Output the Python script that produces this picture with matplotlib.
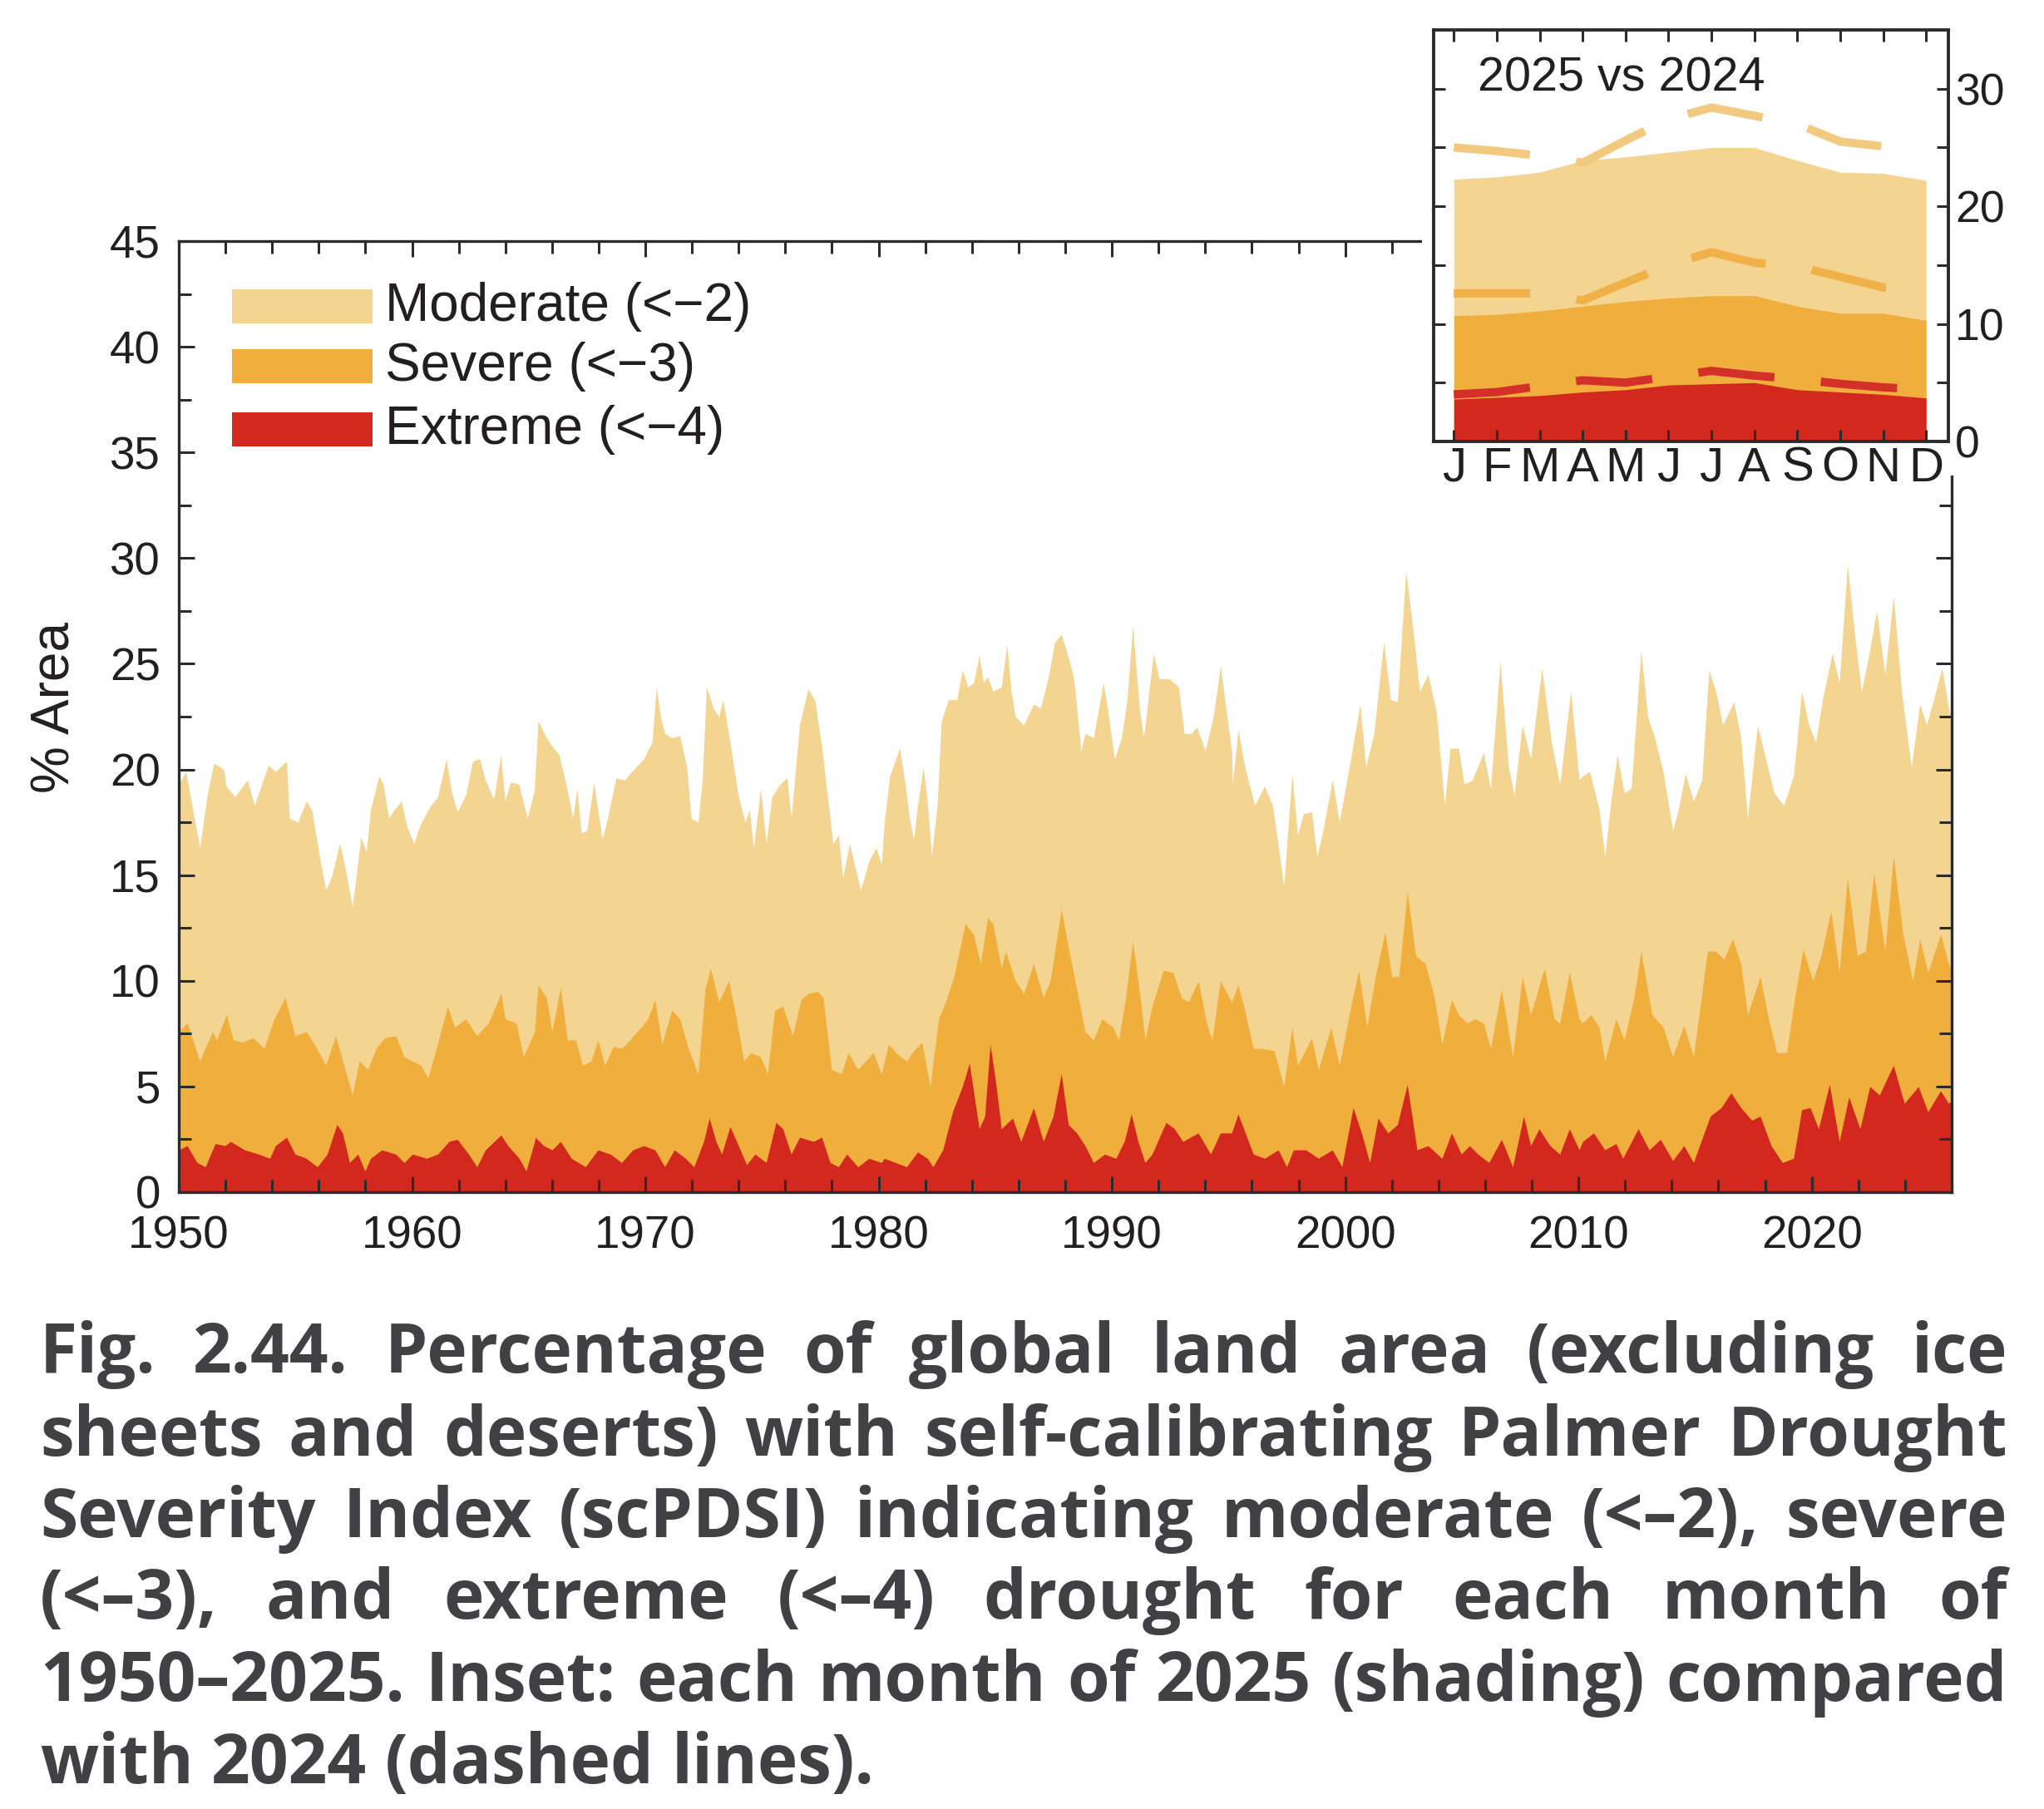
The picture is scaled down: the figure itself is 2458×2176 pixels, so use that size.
import numpy as np
import matplotlib
matplotlib.use('Agg')
import matplotlib.pyplot as plt
from matplotlib import font_manager
from matplotlib.patches import Rectangle
from matplotlib.ticker import MultipleLocator

# ---- data (year, % area) ----
mod_years = [
    1950.00, 1950.30, 1950.90, 1951.20, 1951.50, 1951.92, 1952.04, 1952.40, 1952.94, 1953.24,
    1953.84, 1954.14, 1954.62, 1954.74, 1955.10, 1955.46, 1955.70, 1956.06, 1956.30, 1956.54,
    1956.90, 1957.14, 1957.44, 1957.62, 1957.80, 1958.04, 1958.22, 1958.58, 1958.76, 1959.00,
    1959.24, 1959.54, 1959.78, 1960.08, 1960.32, 1960.50, 1960.80, 1961.10, 1961.46, 1961.70,
    1961.94, 1962.30, 1962.60, 1962.90, 1963.14, 1963.50, 1963.80, 1963.98, 1964.22, 1964.58,
    1964.94, 1965.24, 1965.40, 1965.76, 1966.00, 1966.30, 1966.60, 1966.89, 1967.07, 1967.25,
    1967.49, 1967.79, 1968.15, 1968.38, 1968.74, 1969.10, 1969.58, 1969.93, 1970.29, 1970.47,
    1970.65, 1970.83, 1971.13, 1971.48, 1971.78, 1971.96, 1972.26, 1972.44, 1972.62, 1972.91,
    1973.15, 1973.33, 1973.63, 1973.99, 1974.28, 1974.46, 1974.64, 1974.94, 1975.18, 1975.42,
    1975.77, 1976.07, 1976.25, 1976.61, 1976.97, 1977.26, 1977.56, 1978.04, 1978.28, 1978.46,
    1978.75, 1979.23, 1979.59, 1979.89, 1980.12, 1980.24, 1980.48, 1980.90, 1981.14, 1981.32,
    1981.50, 1981.67, 1981.91, 1982.09, 1982.27, 1982.51, 1982.69, 1982.99, 1983.35, 1983.59,
    1983.83, 1984.07, 1984.31, 1984.49, 1984.67, 1984.90, 1985.26, 1985.50, 1985.68, 1985.86,
    1986.22, 1986.64, 1986.94, 1987.30, 1987.54, 1987.83, 1988.13, 1988.37, 1988.67, 1988.85,
    1989.21, 1989.63, 1989.81, 1990.11, 1990.41, 1990.65, 1990.89, 1991.18, 1991.36, 1991.78,
    1992.02, 1992.44, 1992.86, 1993.10, 1993.40, 1993.64, 1994.00, 1994.35, 1994.65, 1994.89,
    1995.13, 1995.17, 1995.41, 1995.70, 1996.12, 1996.54, 1996.89, 1997.37, 1997.72, 1997.96,
    1998.20, 1998.56, 1998.79, 1999.03, 1999.45, 1999.75, 2000.22, 2000.64, 2000.88, 2001.23,
    2001.65, 2001.95, 2002.24, 2002.60, 2002.96, 2003.19, 2003.55, 2003.91, 2004.26, 2004.50,
    2004.86, 2005.10, 2005.45, 2005.93, 2006.23, 2006.64, 2007.00, 2007.24, 2007.59, 2007.95,
    2008.43, 2008.84, 2009.20, 2009.67, 2010.03, 2010.18, 2010.48, 2010.89, 2011.13, 2011.37,
    2011.66, 2011.96, 2012.26, 2012.68, 2012.97, 2013.27, 2013.63, 2014.04, 2014.28, 2014.58,
    2014.93, 2015.29, 2015.59, 2015.89, 2016.18, 2016.66, 2016.96, 2017.25, 2017.67, 2018.03,
    2018.38, 2018.80, 2019.22, 2019.57, 2019.87, 2020.17, 2020.46, 2020.88, 2021.18, 2021.53,
    2021.83, 2022.13, 2022.43, 2022.78, 2023.14, 2023.50, 2023.85, 2024.27, 2024.63, 2024.92,
    2025.22, 2025.58, 2025.87, 2025.96]
mod_vals = [
    19.3, 19.9, 16.3, 18.7, 20.3, 20.0, 19.2, 18.7, 19.5, 18.3,
    20.2, 19.9, 20.4, 17.7, 17.5, 18.5, 18.1, 15.7, 14.3, 14.9,
    16.5, 15.3, 13.5, 15.1, 16.8, 16.1, 18.1, 19.7, 19.3, 17.7,
    18.1, 18.5, 17.3, 16.5, 17.3, 17.7, 18.3, 18.7, 20.5, 18.9,
    18.0, 18.8, 20.4, 20.5, 19.5, 18.6, 20.7, 18.5, 19.4, 19.3,
    17.7, 19.0, 22.3, 21.5, 21.1, 20.7, 19.3, 17.7, 19.1, 17.0,
    17.1, 19.4, 16.7, 17.7, 19.6, 19.5, 20.1, 20.5, 21.3, 23.9,
    22.5, 21.7, 21.5, 21.6, 20.1, 17.7, 17.5, 19.5, 23.9, 22.9,
    22.5, 23.3, 21.3, 18.7, 17.5, 18.1, 16.3, 19.1, 16.5, 18.7,
    19.3, 19.6, 17.7, 22.1, 23.8, 23.3, 21.1, 16.5, 16.9, 14.9,
    16.5, 14.3, 15.7, 16.3, 15.5, 17.5, 19.7, 21.0, 19.3, 17.7,
    16.7, 18.3, 20.1, 18.5, 15.9, 18.3, 22.3, 23.3, 23.3, 24.7,
    23.9, 24.1, 25.4, 24.1, 24.4, 23.7, 23.9, 25.9, 23.7, 22.5,
    22.1, 23.1, 22.9, 24.5, 26.0, 26.4, 25.3, 24.3, 20.9, 21.7,
    21.5, 24.1, 22.9, 20.5, 21.5, 23.3, 26.8, 22.9, 21.5, 25.5,
    24.3, 24.3, 23.9, 21.7, 21.7, 22.0, 20.9, 22.5, 24.9, 22.9,
    20.9, 19.3, 21.9, 20.1, 18.3, 19.2, 18.3, 14.5, 19.8, 16.9,
    17.9, 18.0, 15.9, 17.0, 19.5, 17.5, 20.4, 23.1, 20.1, 21.7,
    26.0, 23.3, 23.2, 29.4, 26.1, 23.7, 24.5, 22.7, 18.3, 21.0,
    21.0, 19.3, 19.5, 20.8, 19.1, 25.1, 20.1, 18.8, 22.1, 20.5,
    24.8, 21.3, 19.3, 23.7, 19.5, 19.7, 19.9, 18.1, 15.9, 18.3,
    20.7, 18.9, 19.1, 25.6, 22.5, 21.5, 19.9, 17.1, 18.1, 19.8,
    18.5, 19.5, 24.7, 23.7, 22.1, 23.2, 21.5, 17.7, 22.1, 20.5,
    18.9, 18.3, 19.7, 23.7, 22.1, 21.3, 23.3, 25.5, 24.1, 29.7,
    26.5, 23.7, 25.3, 27.5, 24.5, 28.2, 23.7, 20.1, 23.1, 22.1,
    23.3, 24.8, 22.9, 22.5]

sev_years = [
    1950.00, 1950.36, 1950.90, 1951.44, 1951.62, 1952.04, 1952.34, 1952.70, 1953.18, 1953.66,
    1954.08, 1954.56, 1954.98, 1955.46, 1955.82, 1956.30, 1956.72, 1957.08, 1957.44, 1957.74,
    1958.10, 1958.46, 1958.82, 1959.30, 1959.66, 1960.02, 1960.38, 1960.68, 1961.04, 1961.52,
    1961.82, 1962.30, 1962.78, 1963.27, 1963.81, 1963.99, 1964.47, 1964.77, 1965.25, 1965.40,
    1965.76, 1966.00, 1966.36, 1966.66, 1967.01, 1967.31, 1967.67, 1967.97, 1968.26, 1968.62,
    1968.98, 1969.34, 1969.81, 1970.11, 1970.41, 1970.71, 1971.13, 1971.48, 1971.84, 1972.26,
    1972.56, 1972.79, 1973.15, 1973.57, 1973.87, 1974.22, 1974.52, 1974.94, 1975.24, 1975.54,
    1975.89, 1976.31, 1976.67, 1976.97, 1977.38, 1977.62, 1977.98, 1978.40, 1978.69, 1979.11,
    1979.77, 1980.12, 1980.42, 1980.84, 1981.20, 1981.44, 1981.85, 1982.21, 1982.57, 1982.87,
    1983.23, 1983.71, 1984.07, 1984.37, 1984.67, 1984.90, 1985.26, 1985.44, 1985.86, 1986.22,
    1986.64, 1987.06, 1987.36, 1987.83, 1988.13, 1988.49, 1988.85, 1989.21, 1989.57, 1990.05,
    1990.29, 1990.59, 1990.89, 1991.24, 1991.42, 1991.72, 1992.20, 1992.62, 1992.98, 1993.28,
    1993.70, 1994.06, 1994.29, 1994.65, 1995.13, 1995.41, 1995.70, 1996.06, 1996.42, 1996.95,
    1997.37, 1997.72, 1997.96, 1998.56, 1998.85, 1999.39, 1999.75, 2000.28, 2000.58, 2000.93,
    2001.29, 2001.71, 2002.00, 2002.30, 2002.66, 2003.02, 2003.43, 2003.79, 2004.15, 2004.56,
    2004.86, 2005.22, 2005.57, 2005.93, 2006.23, 2006.70, 2007.18, 2007.59, 2007.95, 2008.54,
    2008.96, 2009.20, 2009.61, 2010.03, 2010.18, 2010.54, 2010.89, 2011.13, 2011.61, 2011.96,
    2012.38, 2012.68, 2013.15, 2013.63, 2014.04, 2014.52, 2014.93, 2015.53, 2015.89, 2016.24,
    2016.60, 2016.96, 2017.25, 2017.79, 2018.15, 2018.50, 2018.92, 2019.33, 2019.63, 2020.05,
    2020.40, 2020.82, 2021.18, 2021.53, 2021.95, 2022.31, 2022.66, 2023.14, 2023.50, 2023.91,
    2024.33, 2024.63, 2024.98, 2025.52, 2025.87, 2025.96]
sev_vals = [
    7.6, 8.0, 6.2, 7.6, 7.2, 8.4, 7.2, 7.1, 7.3, 6.8,
    8.2, 9.2, 7.4, 7.6, 7.0, 6.0, 7.4, 6.0, 4.6, 6.2,
    5.8, 6.8, 7.3, 7.4, 6.4, 6.2, 6.0, 5.4, 6.8, 8.8,
    7.8, 8.2, 7.4, 8.0, 9.4, 8.2, 8.0, 6.4, 7.6, 9.8,
    9.2, 7.6, 9.7, 7.2, 7.2, 6.0, 6.2, 7.2, 6.0, 6.9,
    6.8, 7.2, 7.8, 8.2, 9.1, 7.0, 8.6, 8.2, 6.8, 5.6,
    9.6, 10.6, 9.0, 10.0, 8.4, 6.2, 6.6, 6.4, 5.6, 8.6,
    8.8, 7.4, 9.1, 9.4, 9.5, 9.2, 5.8, 5.6, 6.6, 5.8,
    6.6, 5.6, 7.0, 6.5, 6.2, 6.6, 7.1, 5.0, 8.2, 9.0,
    10.2, 12.7, 12.2, 10.8, 13.0, 12.7, 10.6, 11.4, 10.0, 9.4,
    10.8, 9.2, 10.0, 13.4, 11.6, 9.6, 7.6, 7.2, 8.2, 7.8,
    7.2, 9.2, 11.9, 9.0, 7.2, 8.8, 10.5, 10.4, 9.2, 9.0,
    10.0, 8.0, 7.2, 10.0, 9.0, 9.8, 8.6, 6.8, 6.8, 6.7,
    5.0, 7.8, 6.0, 7.3, 5.8, 7.8, 6.0, 9.0, 10.5, 7.8,
    10.2, 12.3, 10.2, 10.2, 14.2, 11.2, 10.8, 9.4, 7.0, 9.1,
    8.4, 8.0, 8.2, 8.0, 6.8, 9.6, 6.4, 10.2, 8.4, 10.6,
    8.2, 8.0, 10.4, 8.2, 8.0, 8.4, 7.8, 6.2, 8.2, 7.2,
    9.2, 11.4, 8.4, 7.8, 6.4, 7.9, 6.4, 11.4, 11.4, 11.0,
    12.0, 10.8, 8.4, 10.2, 8.2, 6.6, 6.6, 9.6, 11.5, 10.0,
    11.2, 13.3, 10.4, 14.9, 11.2, 11.4, 15.1, 11.4, 15.9, 12.2,
    10.0, 12.0, 10.4, 12.2, 10.8, 10.6]

ext_years = [
    1950.00, 1950.36, 1950.78, 1951.14, 1951.56, 1951.98, 1952.22, 1952.82, 1953.42, 1953.90,
    1954.14, 1954.62, 1954.98, 1955.46, 1955.94, 1956.36, 1956.78, 1957.02, 1957.32, 1957.68,
    1957.98, 1958.22, 1958.70, 1959.30, 1959.66, 1960.02, 1960.62, 1961.10, 1961.58, 1961.94,
    1962.42, 1962.78, 1963.14, 1963.81, 1964.11, 1964.59, 1964.89, 1965.25, 1965.28, 1965.64,
    1966.00, 1966.36, 1966.83, 1967.43, 1967.97, 1968.50, 1968.98, 1969.46, 1969.93, 1970.41,
    1970.83, 1971.24, 1971.72, 1972.08, 1972.50, 1972.74, 1973.03, 1973.27, 1973.63, 1973.99,
    1974.34, 1974.70, 1975.18, 1975.60, 1975.89, 1976.25, 1976.61, 1977.20, 1977.56, 1977.92,
    1978.28, 1978.63, 1979.11, 1979.59, 1980.12, 1980.24, 1980.72, 1981.20, 1981.67, 1982.09,
    1982.33, 1982.75, 1983.17, 1983.59, 1983.89, 1984.31, 1984.55, 1984.78, 1985.02, 1985.26,
    1985.74, 1986.10, 1986.64, 1987.06, 1987.48, 1987.83, 1988.13, 1988.49, 1988.85, 1989.21,
    1989.69, 1990.17, 1990.53, 1990.83, 1991.12, 1991.42, 1991.72, 1992.32, 1992.68, 1993.04,
    1993.70, 1994.23, 1994.65, 1995.13, 1995.41, 1996.06, 1996.54, 1997.13, 1997.49, 1997.78,
    1998.32, 1998.85, 1999.45, 1999.86, 2000.34, 2000.70, 2001.05, 2001.41, 2001.83, 2002.24,
    2002.66, 2003.08, 2003.55, 2004.15, 2004.56, 2004.98, 2005.33, 2005.69, 2006.16, 2006.70,
    2007.18, 2007.65, 2007.95, 2008.31, 2008.78, 2009.20, 2009.61, 2010.03, 2010.18, 2010.65,
    2011.13, 2011.61, 2011.90, 2012.56, 2013.03, 2013.51, 2014.04, 2014.52, 2014.93, 2015.65,
    2016.12, 2016.54, 2016.96, 2017.43, 2017.79, 2018.26, 2018.74, 2019.22, 2019.57, 2019.93,
    2020.29, 2020.76, 2021.18, 2021.59, 2022.07, 2022.49, 2022.90, 2023.50, 2023.97, 2024.57,
    2024.98, 2025.52, 2025.87, 2025.96]
ext_vals = [
    2.0, 2.2, 1.4, 1.2, 2.3, 2.2, 2.4, 2.0, 1.8, 1.6,
    2.2, 2.6, 1.8, 1.6, 1.2, 1.8, 3.2, 2.8, 1.4, 1.8,
    1.0, 1.6, 2.0, 1.8, 1.4, 1.8, 1.6, 1.8, 2.4, 2.5,
    1.8, 1.2, 2.0, 2.7, 2.2, 1.6, 1.0, 2.4, 2.6, 2.2,
    2.0, 2.4, 1.6, 1.2, 2.0, 1.8, 1.4, 2.0, 2.2, 2.0,
    1.2, 2.0, 1.6, 1.2, 2.4, 3.5, 2.4, 1.8, 3.1, 2.2,
    1.3, 1.8, 1.4, 3.3, 3.0, 1.8, 2.6, 2.4, 2.6, 1.4,
    1.2, 1.8, 1.2, 1.6, 1.4, 1.6, 1.4, 1.2, 1.9, 1.6,
    1.2, 2.0, 3.8, 5.0, 6.1, 3.0, 3.6, 7.0, 5.2, 3.0,
    3.5, 2.4, 4.0, 2.4, 3.6, 5.6, 3.2, 2.8, 2.2, 1.4,
    1.8, 1.6, 2.4, 3.7, 2.4, 1.4, 1.8, 3.3, 3.0, 2.4,
    2.8, 1.8, 2.8, 2.8, 3.7, 1.8, 1.6, 2.0, 1.2, 2.0,
    2.0, 1.6, 2.0, 1.2, 4.0, 2.8, 1.4, 3.5, 2.8, 3.2,
    5.1, 2.0, 2.2, 1.6, 2.8, 1.8, 2.2, 1.8, 1.4, 2.5,
    1.2, 3.6, 2.2, 3.0, 2.2, 1.8, 3.0, 2.0, 2.4, 2.8,
    2.0, 2.3, 1.6, 3.0, 2.0, 2.5, 1.5, 2.2, 1.4, 3.6,
    4.0, 4.7, 4.0, 3.4, 3.6, 2.2, 1.4, 1.6, 3.9, 4.0,
    3.0, 5.1, 2.4, 4.5, 3.0, 5.0, 4.6, 6.0, 4.2, 5.0,
    3.8, 4.8, 4.2, 4.3]

# inset: each month of 2025 (shading) and 2024 (dashed)
months = ['J', 'F', 'M', 'A', 'M', 'J', 'J', 'A', 'S', 'O', 'N', 'D']
mod_2025 = [22.3, 22.5, 22.9, 23.9, 24.2, 24.6, 25.0, 25.0, 23.9, 22.9, 22.8, 22.2]
sev_2025 = [10.7, 10.8, 11.1, 11.5, 11.9, 12.2, 12.4, 12.4, 11.5, 10.9, 10.9, 10.3]
ext_2025 = [3.6, 3.75, 3.9, 4.2, 4.4, 4.8, 4.9, 5.0, 4.4, 4.2, 4.0, 3.7]
mod_2024 = [25.0, 24.7, 24.3, 23.7, 25.6, 27.4, 28.4, 27.7, 27.0, 25.5, 25.1, 24.9]
sev_2024 = [12.6, 12.6, 12.6, 12.0, 13.5, 15.0, 16.1, 15.2, 14.9, 14.0, 13.1, 12.8]
ext_2024 = [4.0, 4.2, 4.7, 5.2, 5.0, 5.5, 6.0, 5.6, 5.3, 4.9, 4.6, 4.4]

legend_labels = ['Moderate (<\u22122)', 'Severe (<\u22123)', 'Extreme (<\u22124)']
caption_lines = [
    'Fig. 2.44. Percentage of global land area (excluding ice',
    'sheets and deserts) with self-calibrating Palmer Drought',
    'Severity Index (scPDSI) indicating moderate (<\u20132), severe',
    '(<\u20133), and extreme (<\u20134) drought for each month of',
    '1950\u20132025. Inset: each month of 2025 (shading) compared',
    'with 2024 (dashed lines).',
]

C_MOD = '#F4D491'
C_SEV = '#F0AF3C'
C_EXT = '#D2281E'
C_MOD_LINE = '#F2C97E'
C_SEV_LINE = '#F0B248'
C_EXT_LINE = '#D4302A'
INK = '#231F20'
SPINE = '#2B2B2B'
CAP_INK = '#414143'


def pick(names):
    for n in names:
        try:
            font_manager.findfont(font_manager.FontProperties(family=n),
                                  fallback_to_default=False)
            return n
        except ValueError:
            pass
    return 'DejaVu Sans'


NARROW = pick(['Liberation Sans Narrow', 'Liberation Sans'])
SANS = pick(['Liberation Sans', 'DejaVu Sans'])
CAPF = pick(['Open Sans', 'Noto Sans', 'Lato', 'DejaVu Sans'])

W, H = 2458, 2176
DPI = 200
fig = plt.figure(figsize=(W / DPI, H / DPI), dpi=DPI)
fig.patch.set_facecolor('white')
renderer = fig.canvas.get_renderer()


def fx(px):
    return px / W


def fy(py):
    return 1 - py / H


def text_w(s, size, family, weight='normal'):
    t = fig.text(0, 0, s, fontsize=size, family=family, fontweight=weight)
    w = t.get_window_extent(renderer).width
    t.remove()
    return w


def fit(s, target_px, base, family=NARROW):
    # font size giving the label roughly the width it has in the picture
    return min(base, 1.1 * base * target_px / text_w(s, base, family))


TICK_SIZE = fit('1950', 111, 22)
MONTH_SIZE = fit('M', 44, 22)
INSET_Y_SIZE = fit('30', 54, 20)
INSET_TITLE_SIZE = fit('2025 vs 2024', 314, 23)

# ---- main panel ----
ax = fig.add_axes([fx(215), fy(1434), fx(2347) - fx(215), fy(290) - fy(1434)])
ax.fill_between(mod_years, mod_vals, 0, color=C_MOD, lw=0)
ax.fill_between(sev_years, sev_vals, 0, color=C_SEV, lw=0)
ax.fill_between(ext_years, ext_vals, 0, color=C_EXT, lw=0)
ax.set_xlim(1950, 2026)
ax.set_ylim(0, 45)
ax.set_xticks(range(1950, 2021, 10))
ax.xaxis.set_minor_locator(MultipleLocator(2))
ax.set_yticks(range(0, 46, 5))
ax.yaxis.set_minor_locator(MultipleLocator(2.5))
ax.tick_params(which='both', direction='in', top=True, right=True,
               color=SPINE, width=1.1)
ax.tick_params(which='major', length=7)
ax.tick_params(which='minor', length=5.5)
ax.tick_params(axis='x', which='major', pad=10)
ax.tick_params(axis='y', which='major', pad=8)
for lab in ax.get_xticklabels() + ax.get_yticklabels():
    lab.set_fontfamily(NARROW)
    lab.set_fontsize(TICK_SIZE)
    lab.set_color(INK)
for sp in ax.spines.values():
    sp.set_color(SPINE)
    sp.set_linewidth(1.2)
ax.set_ylabel('% Area', fontsize=23, family=SANS, color=INK)
ax.yaxis.set_label_coords(-0.0558, 0.51)

# legend as drawn boxes
leg_colors = [C_MOD, C_SEV, C_EXT]
row_tops = [348, 420, 496]
for lab, col, top in zip(legend_labels, leg_colors, row_tops):
    ax.add_patch(Rectangle((fx(279), fy(top + 41)), fx(169), 41 / H,
                           transform=fig.transFigure, color=col, lw=0))
    fig.text(fx(463), fy(top + 21), lab, fontsize=23, family=SANS,
             color=INK, ha='left', va='center')

# blank the corner behind the inset
fig.add_artist(Rectangle((fx(1710), fy(572)), 1 - fx(1710), 572 / H,
                         transform=fig.transFigure, facecolor='white',
                         edgecolor='none', zorder=1))

# ---- inset ----
iax = fig.add_axes([fx(1724), fy(531), fx(2343) - fx(1724), fy(36) - fy(531)])
iax.set_zorder(2)
iax.set_facecolor('white')
mx = np.arange(len(months))
iax.fill_between(mx, mod_2025, 0, color=C_MOD, lw=0)
iax.fill_between(mx, sev_2025, 0, color=C_SEV, lw=0)
iax.fill_between(mx, ext_2025, 0, color=C_EXT, lw=0)
dash = (9.2, 5.6)
iax.plot(mx, mod_2024, color=C_MOD_LINE, lw=3.6, dashes=dash)
iax.plot(mx, sev_2024, color=C_SEV_LINE, lw=3.6, dashes=dash)
iax.plot(mx, ext_2024, color=C_EXT_LINE, lw=3.6, dashes=dash)
iax.set_xlim(-0.47, 11.52)
iax.set_ylim(0, 35)
iax.set_xticks(mx)
iax.set_xticklabels(months)
iax.set_yticks(range(0, 31, 5))
iax.set_yticklabels(['0', '', '10', '', '20', '', '30'])
iax.tick_params(direction='in', top=True, bottom=True, left=True, right=True,
                labelleft=False, labelright=True, length=5, width=1.1,
                color=SPINE)
iax.tick_params(axis='x', pad=2)
iax.tick_params(axis='y', pad=3)
for lab in iax.get_xticklabels():
    lab.set_fontfamily(NARROW)
    lab.set_fontsize(MONTH_SIZE)
    lab.set_color(INK)
for lab in iax.get_yticklabels():
    lab.set_fontfamily(NARROW)
    lab.set_fontsize(INSET_Y_SIZE)
    lab.set_color(INK)
for sp in iax.spines.values():
    sp.set_color(SPINE)
    sp.set_linewidth(1.4)
iax.text((1777 - 1724) / 619, (531 - 109) / 495, '2025 vs 2024', transform=iax.transAxes,
         fontsize=INSET_TITLE_SIZE, family=NARROW, color=INK, ha='left', va='baseline')

# ---- justified caption ----
left_px, right_px = 48, 2414
box_w = right_px - left_px
baselines = [1651, 1751, 1849, 1947, 2046, 2145]

size = 29.5
widest = max(text_w(line, size, CAPF, 'bold') for line in caption_lines[:-1])
size = min(size, size * box_w / widest * 0.995)
space_w = text_w('a a', size, CAPF, 'bold') - text_w('aa', size, CAPF, 'bold')

for i, line in enumerate(caption_lines):
    words = line.split(' ')
    widths = [text_w(w, size, CAPF, 'bold') for w in words]
    if i < len(caption_lines) - 1:
        gap = (box_w - sum(widths)) / (len(words) - 1)
    else:
        gap = space_w
    x = left_px
    for word, w in zip(words, widths):
        fig.text(fx(x), fy(baselines[i]), word, fontsize=size, family=CAPF,
                 fontweight='bold', color=CAP_INK, ha='left', va='baseline')
        x += w + gap

fig.savefig('out.png', dpi=DPI, facecolor='white')
